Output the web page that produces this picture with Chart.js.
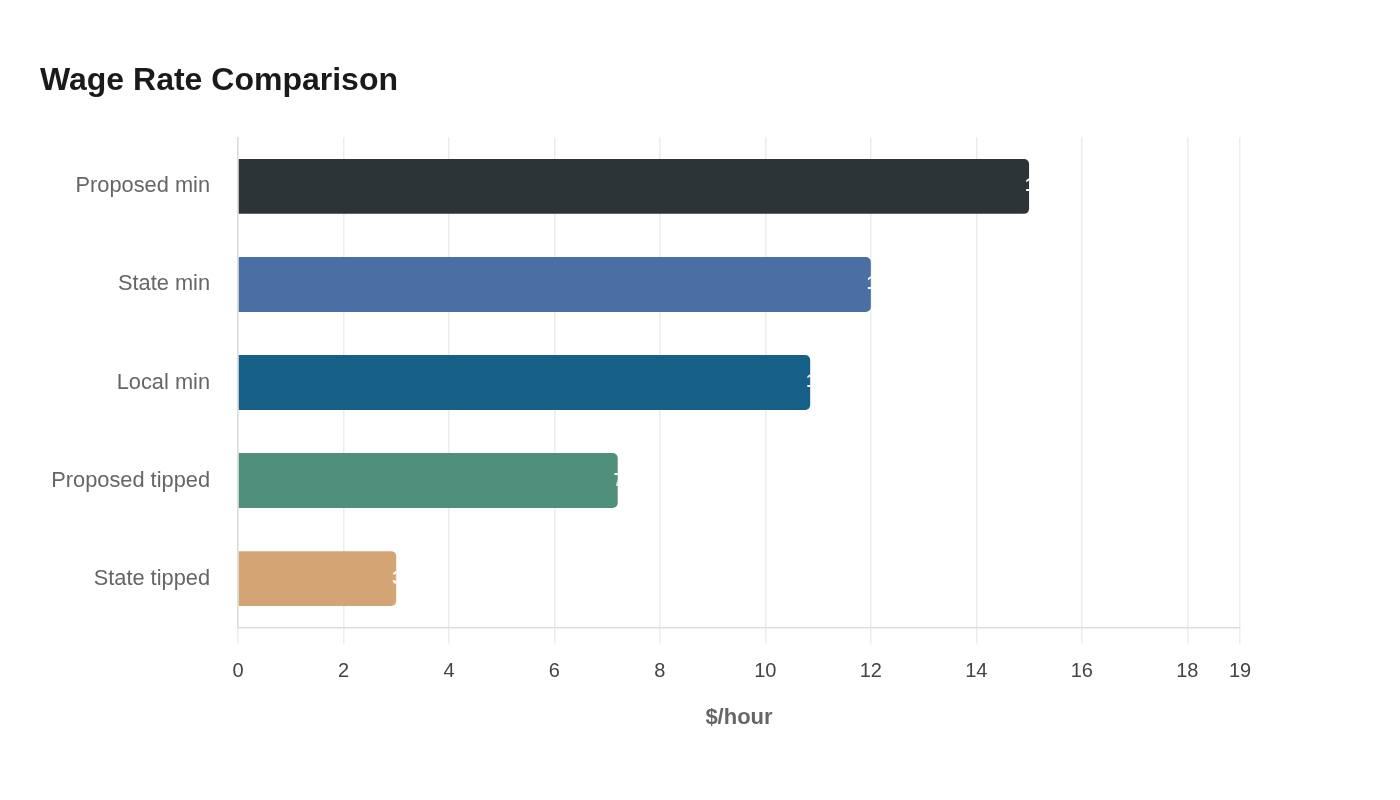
<!DOCTYPE html>
<html>
<head>
<meta charset="utf-8">
<script src="https://cdn.jsdelivr.net/npm/chart.js"></script>
<style>
  html, body { margin: 0; padding: 0; background: #fff; }
  #wrap { width: 1400px; height: 800px; }
</style>
</head>
<body>
<div id="wrap"><canvas id="wage-chart" width="1400" height="800"></canvas></div>
<script>
// Du lieu bieu do
const categories = ['Proposed min', 'State min', 'Local min', 'Proposed tipped', 'State tipped'];
const wageValues = [15, 12, 10.85, 7.2, 3];
const barColors = ['#2d3436', '#4a6fa5', '#166088', '#4f8f7c', '#d4a574'];
const xTicks = [0, 2, 4, 6, 8, 10, 12, 14, 16, 18, 19];

// Nhan gia tri mau trang, bi cat o mep thanh
const barLabels = {
    id: 'barLabels',
    afterDatasetsDraw(chart) {
        const ctx = chart.ctx;
        const meta = chart.getDatasetMeta(0);
        meta.data.forEach((bar, i) => {
            const h = bar.height;
            ctx.save();
            ctx.beginPath();
            ctx.rect(bar.base, bar.y - h / 2, bar.x - bar.base, h);
            ctx.clip();
            ctx.fillStyle = '#ffffff';
            ctx.font = 'bold 18px "Liberation Sans", Arial, sans-serif';
            ctx.textAlign = 'left';
            ctx.textBaseline = 'middle';
            ctx.fillText(String(wageValues[i]), bar.x - 4, bar.y);
            ctx.restore();
        });
    }
};

new Chart(document.getElementById('wage-chart'), {
    type: 'bar',
    data: {
        labels: categories,
        datasets: [{
            data: wageValues,
            backgroundColor: barColors,
            borderRadius: 5,
            borderSkipped: 'start',
            barPercentage: 0.56,
            categoryPercentage: 1
        }]
    },
    options: {
        indexAxis: 'y',
        responsive: false,
        animation: false,
        layout: { padding: { left: 40, right: 160, top: 40, bottom: 65 } },
        plugins: {
            legend: { display: false },
            tooltip: { enabled: false },
            title: {
                display: true,
                text: 'Wage Rate Comparison',
                align: 'start',
                color: '#1a1a1a',
                font: { family: '"Liberation Sans", Arial, sans-serif', size: 32, weight: 'bold' },
                padding: { top: 22, bottom: 37 }
            }
        },
        scales: {
            x: {
                min: 0,
                max: 19,
                afterBuildTicks(axis) {
                    axis.ticks = xTicks.map(v => ({ value: v }));
                },
                grid: { color: '#ececec', lineWidth: 1.5, tickLength: 16 },
                border: { color: '#dddddd', width: 1.5 },
                ticks: {
                    color: '#444444',
                    padding: 16,
                    maxRotation: 0,
                    font: { family: '"Liberation Sans", Arial, sans-serif', size: 20 }
                },
                title: {
                    display: true,
                    text: '$/hour',
                    color: '#666666',
                    padding: { top: 5 },
                    font: { family: '"Liberation Sans", Arial, sans-serif', size: 22, weight: 'bold' }
                }
            },
            y: {
                grid: { display: false },
                border: { color: '#dddddd', width: 1.5 },
                afterFit(axis) {
                    axis.width = 198;
                },
                ticks: {
                    color: '#666666',
                    padding: 20,
                    font: { family: '"Liberation Sans", Arial, sans-serif', size: 21.8 }
                }
            }
        }
    },
    plugins: [barLabels]
});
</script>
</body>
</html>
